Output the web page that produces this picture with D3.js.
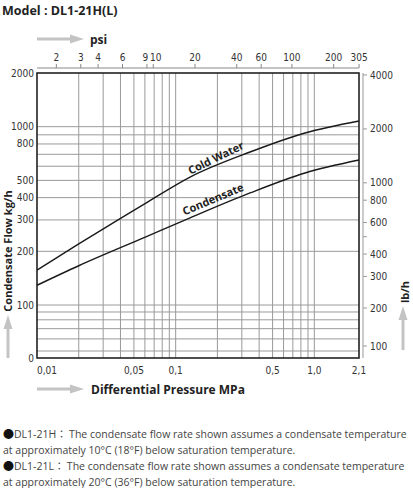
<!DOCTYPE html>
<html>
<head>
<meta charset="utf-8">
<script src="https://cdn.jsdelivr.net/npm/d3@7"></script>
<style>
	body { margin: 0; background: #fff; }
	svg { display: block; }
	.tick-label { font-family: "Liberation Sans Narrow", "DejaVu Sans Condensed", sans-serif; font-size: 10px; fill: #333; }
	.bold { font-family: "Open Sans", "Noto Sans", sans-serif; font-weight: bold; fill: #222; }
	.note { font-family: "Open Sans", "Noto Sans", sans-serif; font-size: 10.5px; fill: #444; }
	.cjk { font-family: "Noto Sans CJK JP", sans-serif; }
</style>
</head>
<body>
<svg id="chart" width="413" height="488"></svg>
<script>
// values (MPa -> kg/h)
const pressureMPa = [0.01, 0.02, 0.061, 0.127, 0.344, 0.857, 2.1]
const coldWater = [157, 220, 373, 522, 721, 922, 1076]
const condensate = [129, 166, 241, 308, 425, 550, 650]

const mpaTicks = [0.01, 0.05, 0.1, 0.5, 1.0, 2.1]
const mpaTickLabels = ["0,01", "0,05", "0,1", "0,5", "1,0", "2,1"]
const mpaGrid = [0.02, 0.03, 0.04, 0.05, 0.06, 0.07, 0.08, 0.09, 0.1,
	0.2, 0.3, 0.4, 0.5, 0.6, 0.7, 0.8, 0.9, 1.0]
const psiTicks = [2, 3, 4, 6, 9, 10, 20, 40, 60, 100, 200, 305]
const PSI_PER_MPA = 145.04

const kgTicks = [0, 100, 200, 300, 400, 500, 800, 1000, 2000]
const kgGrid = [50, 60, 70, 80, 90, 100, 200, 300, 400, 500, 600, 700, 800, 900, 1000]
const lbTicks = [100, 200, 300, 400, 500, 600, 800, 1000, 2000, 4000]
const lbTickLabels = ["100", "200", "300", "400", "", "600", "800", "1000", "2000", "4000"]

const notes = [
	["DL1-21H", "The condensate flow rate shown assumes a condensate temperature"],
	[null, "at approximately 10°C (18°F) below saturation temperature."],
	["DL1-21L", "The condensate flow rate shown assumes a condensate temperature"],
	[null, "at approximately 20°C (36°F) below saturation temperature."],
]

const plot = { left: 37, right: 359, top: 73, bottom: 358 }
const svg = d3.select("#chart")

const x = d3.scaleLog().domain([0.01, 2.1]).range([plot.left, plot.right])
// bottom of the kg axis is compressed and labelled "0"
const yMin = 45
const y = d3.scaleLog().domain([yMin, 100, 2000]).range([plot.bottom, 305, plot.top])
const yLb = d3.scaleLog().domain([100, 200, 4000]).range([346, 308, 75])

// title
svg.append("text")
	.attr("class", "bold")
	.attr("x", 2)
	.attr("y", 15)
	.style("font-size", "12.5px")
	.text("Model : DL1-21H(L)")

// grid
const grid = svg.append("g").attr("stroke", "#9a9a9a").attr("stroke-width", 1)
grid.selectAll(".vgrid")
	.data(mpaGrid)
	.join("line")
	.attr("x1", (d) => x(d))
	.attr("x2", (d) => x(d))
	.attr("y1", plot.top)
	.attr("y2", plot.bottom)
grid.selectAll(".hgrid")
	.data(kgGrid)
	.join("line")
	.attr("x1", plot.left)
	.attr("x2", plot.right)
	.attr("y1", (d) => y(d))
	.attr("y2", (d) => y(d))

// frame
svg.append("rect")
	.attr("x", plot.left)
	.attr("y", plot.top)
	.attr("width", plot.right - plot.left)
	.attr("height", plot.bottom - plot.top)
	.attr("fill", "none")
	.attr("stroke", "#222")
	.attr("stroke-width", 1.6)

// curves
const line = d3.line()
	.x((d) => x(d[0]))
	.y((d) => y(d[1]))
	.curve(d3.curveMonotoneX)

const series = [
	{ name: "Cold Water", values: coldWater, labelAt: 0.195, labelVal: 668 },
	{ name: "Condensate", values: condensate, labelAt: 0.186, labelVal: 392 },
]

series.forEach((s) => {
	const pts = pressureMPa.map((p, i) => [p, s.values[i]])
	svg.append("path")
		.datum(pts)
		.attr("fill", "none")
		.attr("stroke", "#1a1a1a")
		.attr("stroke-width", 1.4)
		.attr("d", line)

	// angle from the neighbouring points
	const angle = Math.atan2(y(s.values[4]) - y(s.values[2]), x(pressureMPa[4]) - x(pressureMPa[2])) * 180 / Math.PI
	svg.append("text")
		.attr("class", "bold")
		.attr("text-anchor", "middle")
		.attr("transform", `translate(${x(s.labelAt)},${y(s.labelVal)}) rotate(${angle})`)
		.attr("dy", "0.35em")
		.style("font-size", "11px")
		.text(s.name)
})

// left axis labels
svg.append("g")
	.selectAll("text")
	.data(kgTicks)
	.join("text")
	.attr("class", "tick-label")
	.attr("x", plot.left - 3)
	.attr("y", (d) => y(d === 0 ? yMin : d))
	.attr("dy", "0.35em")
	.attr("text-anchor", "end")
	.text((d) => d)

// bottom axis labels
svg.append("g")
	.selectAll("text")
	.data(mpaTicks)
	.join("text")
	.attr("class", "tick-label")
	.attr("x", (d) => x(d))
	.attr("y", 374)
	.attr("text-anchor", (d, i) => (i === 0 ? "start" : "middle"))
	.text((d, i) => mpaTickLabels[i])

// top psi axis
const psiAxis = svg.append("g")
psiAxis.append("line")
	.attr("x1", plot.left)
	.attr("x2", plot.right)
	.attr("y1", 68)
	.attr("y2", 68)
	.attr("stroke", "#888")
psiAxis.selectAll(".psi-tick")
	.data(psiTicks)
	.join("line")
	.attr("x1", (d) => x(d / PSI_PER_MPA))
	.attr("x2", (d) => x(d / PSI_PER_MPA))
	.attr("y1", 64)
	.attr("y2", 68)
	.attr("stroke", "#888")
psiAxis.selectAll("text")
	.data(psiTicks)
	.join("text")
	.attr("class", "tick-label")
	.attr("x", (d) => x(d / PSI_PER_MPA))
	.attr("dx", (d) => (d === 9 ? -1.5 : d === 10 ? 2.5 : 0)) // 9 and 10 sit tight
	.attr("y", 61)
	.attr("text-anchor", "middle")
	.text((d) => d)

// right lb/h axis
const lbAxis = svg.append("g")
lbAxis.append("line")
	.attr("x1", 363)
	.attr("x2", 363)
	.attr("y1", plot.top)
	.attr("y2", plot.bottom)
	.attr("stroke", "#999")
lbAxis.selectAll(".lb-tick")
	.data(lbTicks)
	.join("line")
	.attr("x1", 363)
	.attr("x2", 367)
	.attr("y1", (d) => yLb(d))
	.attr("y2", (d) => yLb(d))
	.attr("stroke", "#999")
lbAxis.selectAll("text")
	.data(lbTicks)
	.join("text")
	.attr("class", "tick-label")
	.attr("x", 370)
	.attr("y", (d) => yLb(d))
	.attr("dy", "0.35em")
	.text((d, i) => lbTickLabels[i])

// axis titles with grey arrows
const arrowColor = "#c4c4c4"
function arrow(x1, y1, x2, y2) {
	const a = Math.atan2(y2 - y1, x2 - x1)
	const head = 14
	const hx = x2 - head * Math.cos(a)
	const hy = y2 - head * Math.sin(a)
	svg.append("line")
		.attr("x1", x1).attr("y1", y1).attr("x2", hx).attr("y2", hy)
		.attr("stroke", arrowColor).attr("stroke-width", 3)
	const w = 4.5
	svg.append("path")
		.attr("d", `M${x2},${y2}L${hx + w * Math.sin(a)},${hy - w * Math.cos(a)}L${hx - w * Math.sin(a)},${hy + w * Math.cos(a)}Z`)
		.attr("fill", arrowColor)
}

arrow(37, 39, 84, 39)
svg.append("text").attr("class", "bold").attr("x", 90).attr("y", 44).style("font-size", "12px").text("psi")

arrow(37, 389, 84, 389)
svg.append("text").attr("class", "bold").attr("x", 91).attr("y", 394).style("font-size", "12px")
	.text("Differential Pressure MPa")

arrow(8, 358, 8, 315)
svg.append("text").attr("class", "bold")
	.attr("transform", "translate(12,251) rotate(-90)")
	.attr("text-anchor", "middle")
	.style("font-size", "11px")
	.text("Condensate Flow kg/h")

arrow(403, 350, 403, 306)
svg.append("text").attr("class", "bold")
	.attr("transform", "translate(409,292) rotate(-90)")
	.attr("text-anchor", "middle")
	.style("font-size", "11px")
	.text("lb/h")

// notes
const noteText = svg.append("g")
	.selectAll("text")
	.data(notes)
	.join("text")
	.attr("class", "note")
	.attr("x", 3)
	.attr("y", (d, i) => 438 + i * 15.9)

noteText.filter((d) => d[0]).each(function (d) {
	const t = d3.select(this)
	t.append("tspan").attr("class", "cjk").style("font-size", "11px").style("fill", "#111").text("●")
	t.append("tspan").text(d[0])
	t.append("tspan").attr("class", "cjk").text("： ")
	t.append("tspan").text(d[1])
})
noteText.filter((d) => !d[0]).text((d) => d[1])
</script>
</body>
</html>
